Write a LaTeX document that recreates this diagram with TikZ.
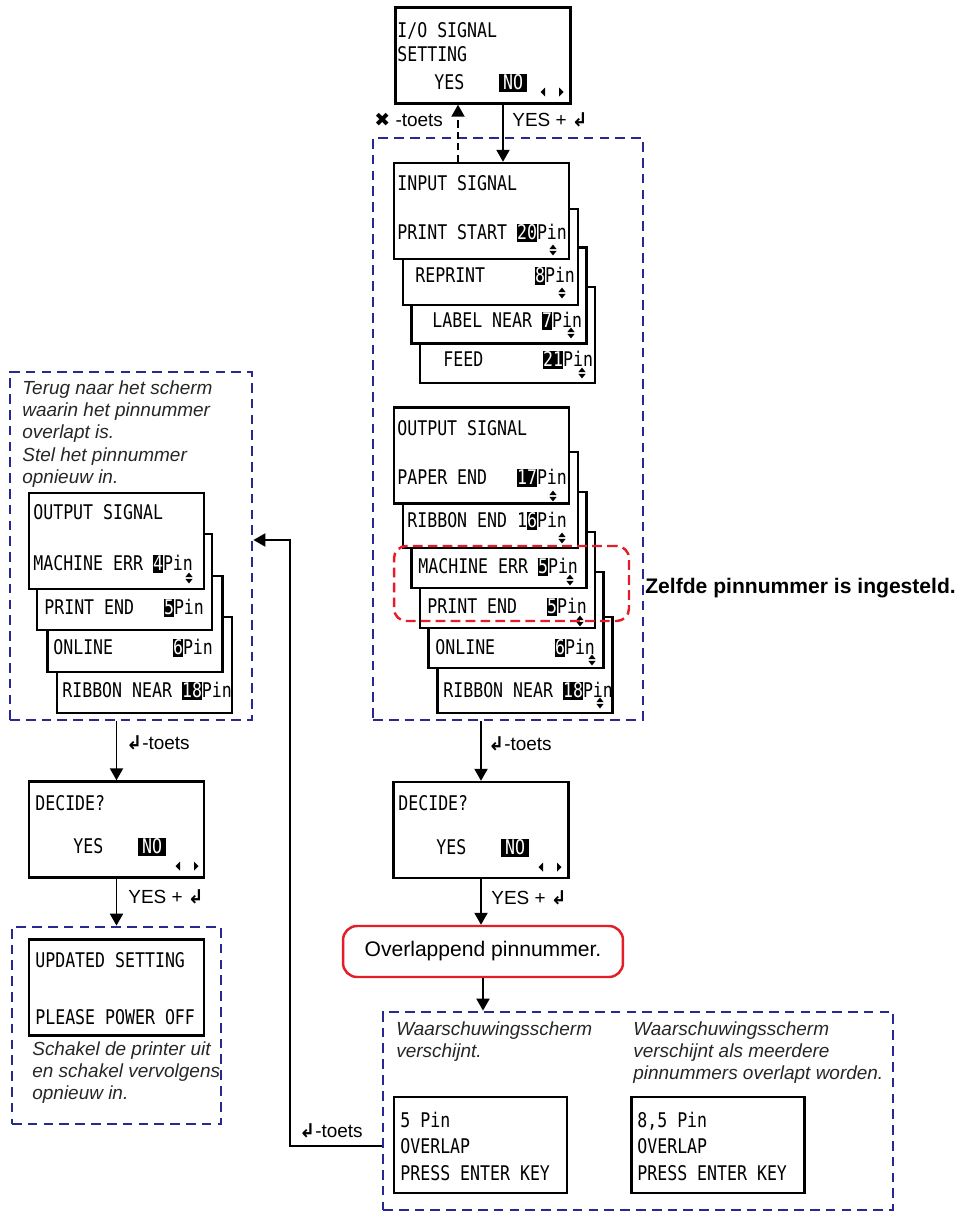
\documentclass[tikz,border=0pt]{standalone}
\usepackage{fontspec}
\setmainfont{Liberation Sans}
\newfontfamily\lcdfont[FakeStretch=0.82]{DejaVu Sans Mono}
\newfontfamily\symfont{DejaVu Sans}
\usetikzlibrary{arrows.meta,calc}

\definecolor{dashblue}{RGB}{40,40,145}
\definecolor{alertred}{RGB}{228,30,40}

% white-on-black pin number on the display
\newcommand{\pinhl}[2][0pt]{{\setlength{\fboxsep}{0pt}\colorbox{black}{\hspace{#1}\textcolor{white}{\rule[-0.12em]{0pt}{0.87em}#2}\hspace{#1}}}}
\newcommand{\enterkey}{{\symfont\bfseries ↲}}
\newcommand{\cancelkey}{{\symfont ✖}}

\begin{document}
\begin{tikzpicture}[
  x=0.02cm, y=-0.02cm,
  screen/.style={draw, line width=1.4pt, fill=white, minimum width=3.5cm, minimum height=1.92cm, inner sep=0pt},
  lcd/.style={anchor=base west, inner sep=0pt, font=\lcdfont\fontsize{11.5}{13}\selectfont},
  lbl/.style={anchor=base west, inner sep=0pt, font=\fontsize{10.8}{13}\selectfont},
  note/.style={anchor=north west, inner sep=0pt, align=left, text=black!85, font=\itshape\fontsize{10.8}{12.7}\selectfont},
  dbox/.style={draw=dashblue, dash pattern=on 5.5pt off 3.5pt, line width=1.6pt, inner sep=0pt},
  rdbox/.style={draw=alertred, dash pattern=on 5.5pt off 3pt, line width=1.4pt, rounded corners=7pt, inner sep=0pt},
  msg/.style={draw=alertred, line width=1.4pt, rounded corners=8pt, minimum width=5.6cm, minimum height=1.02cm, font=\fontsize{12}{14}\selectfont},
  arr/.style={-{Triangle[length=6.8pt,width=7.4pt]}, line width=1.1pt},
  updn/.pic={\fill (-3.6,-0.9) -- (3.6,-0.9) -- (0,-5.4) -- cycle (-3.6,0.9) -- (3.6,0.9) -- (0,5.4) -- cycle;},
  lr/.pic={\fill (-11.5,0) -- (-7,-4.5) -- (-7,4.5) -- cycle (11.5,0) -- (7,-4.5) -- (7,4.5) -- cycle;}
]
\useasboundingbox (0,0) rectangle (962,1214);

% dashed frames
\node[dbox, minimum width=5.4cm, minimum height=11.64cm] (rbox) at (508,429) {};
\node[dbox, minimum width=4.84cm, minimum height=6.96cm] (lbox) at (131,546) {};
\node[dbox, minimum width=4.18cm, minimum height=3.94cm] (ubox) at (116.5,1025.5) {};
\node[dbox, minimum width=10.2cm, minimum height=3.96cm] (bbox) at (638,1111) {};

% I/O signal setting
\node[screen] (io) at (483,55.5) {};
\node[lcd] (io-t1) at (397,37.5) {I/O SIGNAL};
\node[lcd] (io-t2) at (397,61) {SETTING};
\node[lcd] (io-yes) at (434,89.5) {YES};
\node[lcd] (io-no) at (499,89.5) {\pinhl[2.2pt]{NO}};
\pic at (552,92) {lr};

% input signal stack
\node[screen] (in4) at (507.5,335) {};
\node[lcd] (in4-t) at (443,366.5) {FEED~~~~~~\pinhl{21}Pin};
\pic at (582,373) {updn};
\node[screen] (in3) at (499,295.5) {};
\node[lcd] (in3-t) at (432,327.5) {LABEL NEAR \pinhl{7}Pin};
\pic at (571,333) {updn};
\node[screen] (in2) at (490.5,257) {};
\node[lcd] (in2-t) at (415,282.5) {REPRINT~~~~~\pinhl{8}Pin};
\pic at (562,293) {updn};
\node[screen] (in1) at (481.5,211) {};
\node[lcd] (in1-t1) at (397,190.5) {INPUT SIGNAL};
\node[lcd] (in1-t2) at (397,239.5) {PRINT START \pinhl{20}Pin};
\pic at (553,250) {updn};

% output signal stack
\node[screen] (o6) at (525,665) {};
\node[lcd] (o6-t) at (443,697.5) {RIBBON NEAR \pinhl{18}Pin};
\pic at (600,703) {updn};
\node[screen] (o5) at (516,620) {};
\node[lcd] (o5-t) at (435,654.5) {ONLINE~~~~~~\pinhl{6}Pin};
\pic at (592,660) {updn};
\node[screen] (o4) at (507.5,580) {};
\node[lcd] (o4-t) at (427,613.5) {PRINT END~~~\pinhl{5}Pin};
\pic at (580,621) {updn};
\node[screen] (o3) at (499,540) {};
\node[lcd] (o3-t) at (418,573.5) {MACHINE ERR \pinhl{5}Pin};
\pic at (570,580) {updn};
\node[screen] (o2) at (490.5,500) {};
\node[lcd] (o2-t) at (407,527.5) {RIBBON END 1\pinhl{6}Pin};
\pic at (562,538) {updn};
\node[screen] (o1) at (481.5,455.5) {};
\node[lcd] (o1-t1) at (397,435.5) {OUTPUT SIGNAL};
\node[lcd] (o1-t2) at (397,484.5) {PAPER END~~~\pinhl{17}Pin};
\pic at (553,496) {updn};

% same pin number
\node[rdbox, minimum width=4.7cm, minimum height=1.5cm] (same) at (511.5,583.5) {};
\node[lbl, font=\bfseries\fontsize{12}{14}\selectfont] (same-t) at (645,593) {Zelfde pinnummer is ingesteld.};

% left: back to the overlapping screen
\node[note] (back-t) at (22,380) {Terug naar het scherm\\waarin het pinnummer\\overlapt is.\\Stel het pinnummer\\opnieuw in.};
\node[screen] (l4) at (144.5,665) {};
\node[lcd] (l4-t) at (62,697.5) {RIBBON NEAR \pinhl{18}Pin};
\node[screen] (l3) at (135,624) {};
\node[lcd] (l3-t) at (53,654.5) {ONLINE~~~~~~\pinhl{6}Pin};
\node[screen] (l2) at (124.5,582) {};
\node[lcd] (l2-t) at (44,614.5) {PRINT END~~~\pinhl{5}Pin};
\node[screen] (l1) at (116.5,541) {};
\node[lcd] (l1-t1) at (33,519.5) {OUTPUT SIGNAL};
\node[lcd] (l1-t2) at (33,570.5) {MACHINE ERR \pinhl{4}Pin};
\pic at (189,578) {updn};

% decide screens
\node[screen] (ldec) at (116.5,829.5) {};
\node[lcd] (ldec-t) at (35,810.5) {DECIDE?};
\node[lcd] (ldec-yes) at (73,853.5) {YES};
\node[lcd] (ldec-no) at (138,853.5) {\pinhl[2.2pt]{NO}};
\pic at (187,866) {lr};

\node[screen] (rdec) at (481,830) {};
\node[lcd] (rdec-t) at (398,810.5) {DECIDE?};
\node[lcd] (rdec-yes) at (436,854.5) {YES};
\node[lcd] (rdec-no) at (501,854.5) {\pinhl[2.2pt]{NO}};
\pic at (550,867) {lr};

% updated setting
\node[screen] (upd) at (116.5,987.5) {};
\node[lcd] (upd-t1) at (35,967.5) {UPDATED SETTING};
\node[lcd] (upd-t2) at (35,1024.5) {PLEASE POWER OFF};
\node[note] (upd-n) at (32,1041) {Schakel de printer uit\\en schakel vervolgens\\opnieuw in.};

% overlap message and warnings
\node[msg] (ovl) at (483,951.5) {Overlappend pinnummer.};
\node[note] (w1-n) at (396,1021) {Waarschuwingsscherm\\verschijnt.};
\node[note] (w2-n) at (633,1021) {Waarschuwingsscherm\\verschijnt als meerdere\\pinnummers overlapt worden.};
\node[screen, minimum width=3.46cm] (w1) at (480.5,1145) {};
\node[lcd] (w1-t1) at (400,1127.5) {5 Pin};
\node[lcd] (w1-t2) at (400,1153.5) {OVERLAP};
\node[lcd] (w1-t3) at (400,1180.5) {PRESS ENTER KEY};
\node[screen, minimum width=3.46cm] (w2) at (718,1145) {};
\node[lcd] (w2-t1) at (637,1127.5) {8,5 Pin};
\node[lcd] (w2-t2) at (637,1153.5) {OVERLAP};
\node[lcd] (w2-t3) at (637,1180.5) {PRESS ENTER KEY};

% connectors
\draw[arr] ($(io.south)+(20,0)$) -- ($(in1.north)+(21.5,0)$);
\draw[arr, dash pattern=on 4pt off 2.5pt] ($(in1.north)+(-23.5,0)$) -- ($(io.south)+(-25,0)$);
\node[lbl] (io-x) at (374,126) {\cancelkey{} -toets};
\node[lbl] (io-y) at (512,126) {YES + \enterkey};

\draw[arr] (rbox.south -| rdec.north) -- (rdec.north);
\node[lbl] (r-ent) at (488,750) {\enterkey-toets};
\draw[arr] (rdec.south) -- (rdec.south |- ovl.north);
\node[lbl] (r-yes) at (491,904) {YES + \enterkey};
\draw[arr] (ovl.south) -- (ovl.south |- bbox.north);

\coordinate (bend) at (290,1146);
\draw[arr] (bbox.west |- bend) -- (bend) |- ($(lbox.east)+(0,-6)$);
\node[lbl] (b-ent) at (299,1137) {\enterkey-toets};

\draw[arr] (lbox.south -| ldec.north) -- (ldec.north);
\node[lbl] (l-ent) at (126,749) {\enterkey-toets};
\draw[arr] (ldec.south) -- (ldec.south |- ubox.north);
\node[lbl] (l-yes) at (128,903) {YES + \enterkey};
\end{tikzpicture}
\end{document}
